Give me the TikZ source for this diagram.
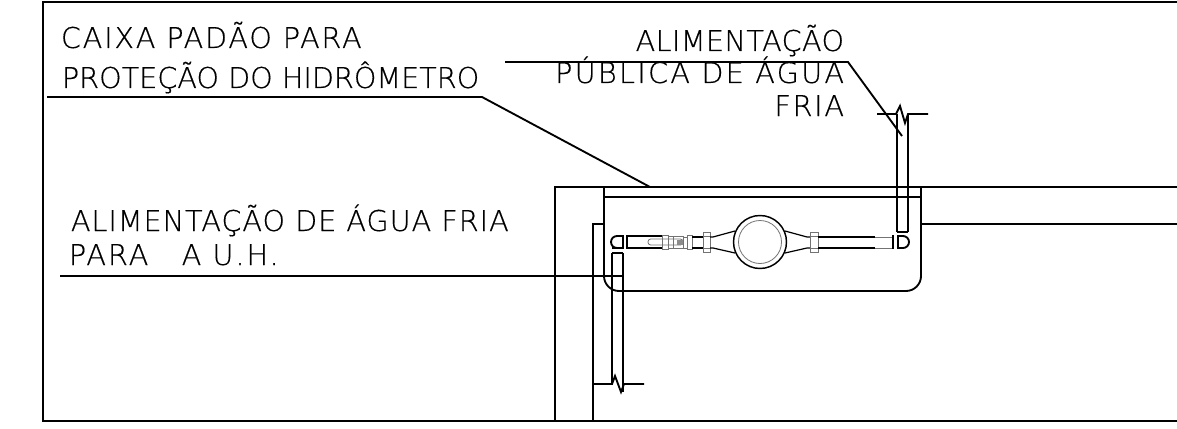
\documentclass[tikz,border=0pt]{standalone}
\usepackage{fontspec}
\newfontfamily\cadfont[FakeBold=0.4]{DejaVu Sans ExtraLight}
\newcommand{\track}[2]{\addfontfeature{LetterSpace=#1}#2}
\usetikzlibrary{calc}
\tikzset{
    cadtext/.style={font=\cadfont\fontsize{21.5}{21.5}\selectfont, inner sep=0pt, anchor=base west},
    cadright/.style={cadtext, anchor=base east},
    thin line/.style={line width=0.9pt},
    pale/.style={line width=0.6pt, draw=black!55}
}
\begin{document}
\begin{tikzpicture}[x=0.75pt, y=-0.75pt, line width=1.4pt, line join=miter]
        \useasboundingbox (0,0) rectangle (1177,428);

        \draw (1177,2)--(43,2)--(43,421)--(1177,421);
        \draw (1177,187)--(555,187)--(555,421);
        \draw (604,197)--(921,197);
        \draw (604,187)--(604,276) arc [start angle=180, end angle=90, radius=15]--(906,291) arc [start angle=90, end angle=0, radius=15]--(921,187);
        \draw (593,421)--(593,224)--(604,224);
        \draw (921,224)--(1177,224);

        \node[cadtext] (caixa) at (60,48) {\track{6.3}{CAIXA PADÃO PARA}};
        \node[cadtext] (protecao) at (61,88) {\track{0}{PROTEÇÃO DO HIDRÔMETRO}};
        \node[cadright] (alim) at (845,51) {\track{1.4}{ALIMENTAÇÃO}};
        \node[cadright] (publica) at (845,83) {\track{8}{PÚBLICA DE ÁGUA}};
        \node[cadright] (fria) at (845,116) {\track{6}{FRIA}};
        \node[cadtext] (alimuh) at (70,231) {\track{3.4}{ALIMENTAÇÃO DE ÁGUA FRIA}};
        \node[cadtext] (parauh) at (68,265) {\track{7}{PARA\ \ \ A U.H.}};

        \draw (47,97)--(482,97)--(650,187);
        \draw (505,62)--(848,62)--(902,136);
        \draw (60,276)--(622,276);

        \draw (612,253)--(612,385);
        \draw (623,253)--(623,392);
        \draw[line width=2pt] (612,253)--(623,253);
        \draw (593,384)--(612,384)--(615,376)--(621,392)--(624,384)--(644,384);

        \draw (897,114)--(897,232);
        \draw (908,114)--(908,232);
        \draw[line width=2.2pt] (897,232)--(908,232);
        \draw (877,114)--(896,114)--(900,106)--(905,123)--(908,114)--(928,114);

        \draw (623,236)--(617,236) arc [start angle=270, end angle=90, radius=6]--(623,248)--cycle;
        \draw (612,248)--(623,248);
        \draw[line width=2.2pt] (627,235)--(627,249);
        \draw (628,236)--(662,236);
        \draw[line width=1.9pt] (628,248)--(662,248);

        \draw[pale, rounded corners=2pt] (648,239) rectangle (683,245);
        \fill[black!45] (677,240) rectangle (683,245);
        \draw[pale] (662,235) rectangle (668,249);
        \draw[pale] (668,236)--(673,236);
        \draw[pale] (668,248)--(673,248);
        \draw[pale] (673,236) rectangle (683,248);
        \draw[pale] (687,235) rectangle (692,249);
        \draw[pale] (683,237)--(687,237);
        \draw[pale] (683,248)--(687,248);
        \draw[thin line] (692,237)--(703,237);
        \draw[thin line] (692,248)--(703,248);

        \draw[pale] (703,232) rectangle (710,252);
        \draw[pale] (703,236)--(710,236);
        \draw[pale] (703,248)--(710,248);
        \draw[thin line] (710,237)--(713,237)--(735,231);
        \draw[thin line] (710,248)--(713,248)--(735,253);
        \draw[thin line] (785,231)--(807,237)--(810,237);
        \draw[thin line] (785,253)--(807,248)--(810,248);
        \draw[pale] (810,232) rectangle (818,252);
        \draw[pale] (810,236)--(818,236);
        \draw[pale] (810,248)--(818,248);
        \draw[fill=white, line width=1.1pt] (760,242) circle [radius=26.5];
        \draw[pale] (760,242) circle [radius=21.5];

        \draw[thin line] (818,237)--(875,237);
        \draw[pale] (875,237)--(892,237);
        \draw (818,248)--(875,248);
        \draw[pale] (875,248)--(892,248);
        \draw[line width=2.2pt] (893,235)--(893,249);
        \draw (898,236)--(903,236) arc [start angle=-90, end angle=90, radius=6]--(898,248)--cycle;
    \end{tikzpicture}
\end{document}
